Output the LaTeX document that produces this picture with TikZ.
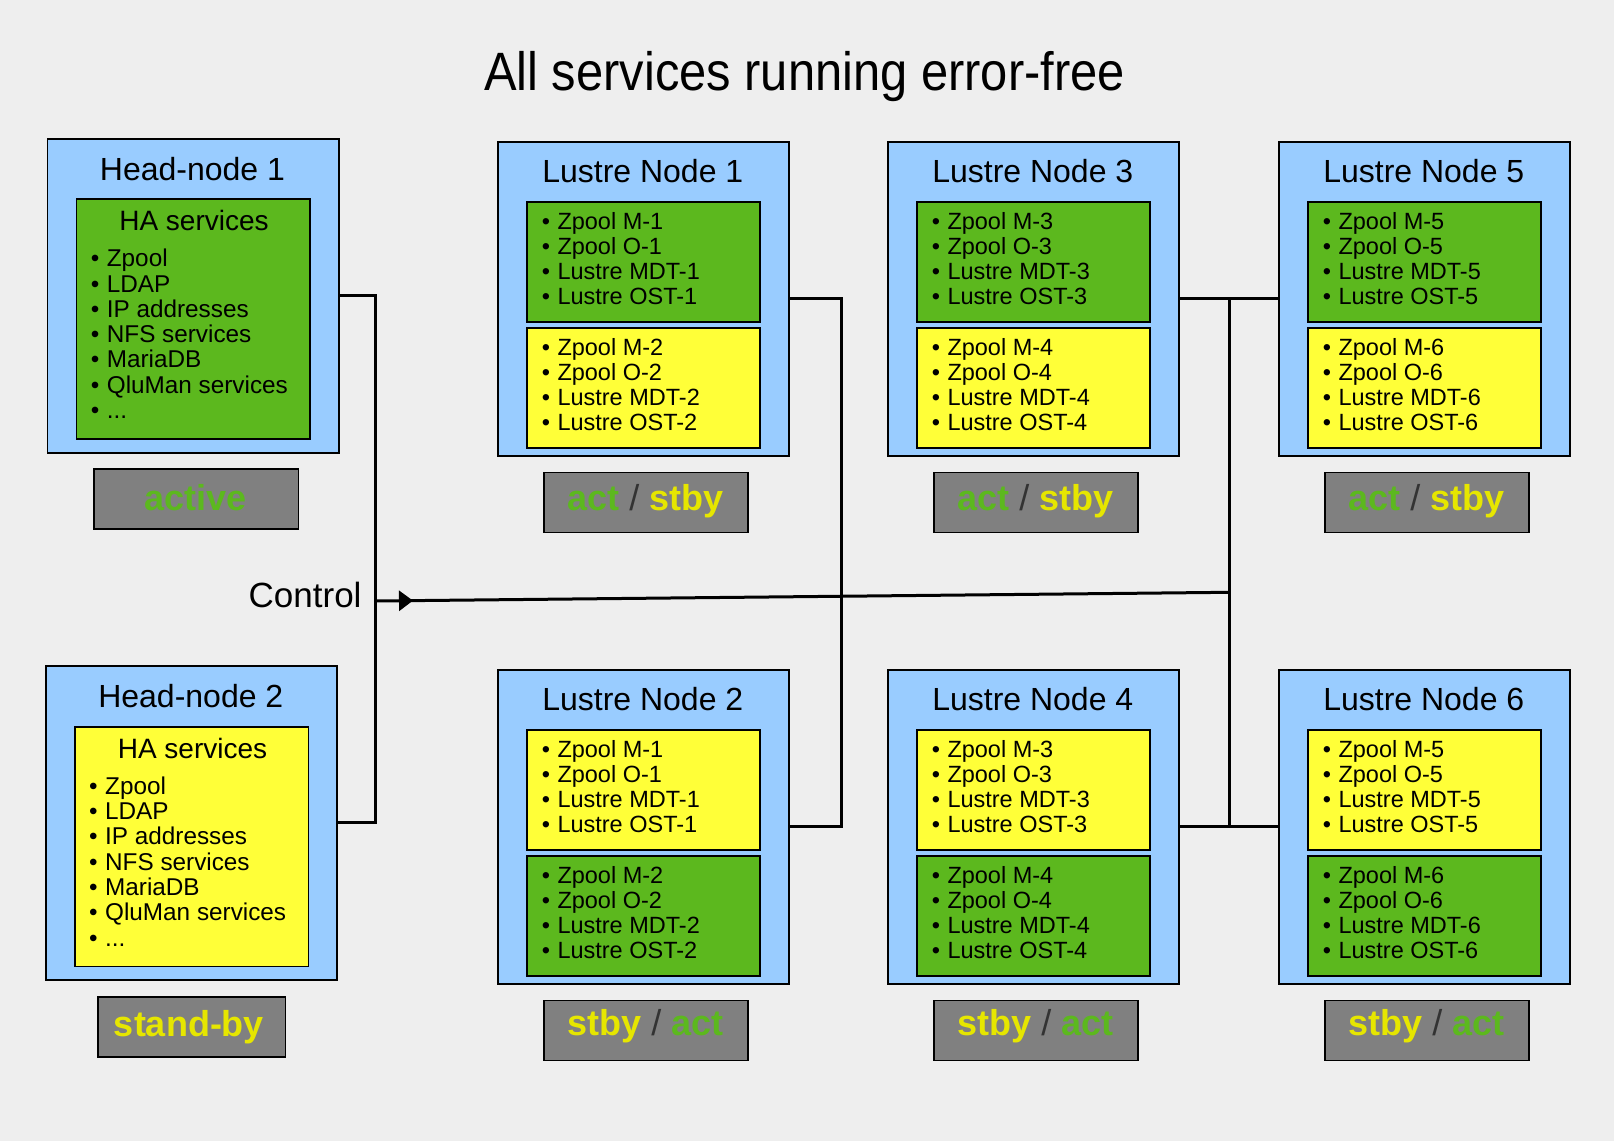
\documentclass[tikz,border=0pt]{standalone}
\usepackage{fontspec}
\setmainfont{Liberation Sans}
\usepackage{graphicx}
\usetikzlibrary{arrows.meta,decorations.markings}
\definecolor{bgc}{HTML}{EEEEEE}
\definecolor{boxblue}{HTML}{99CCFF}
\definecolor{actgreen}{HTML}{5CB81E}
\definecolor{stbyyellow}{HTML}{FFFF38}
\definecolor{statgray}{HTML}{808080}
\definecolor{txtyellow}{HTML}{E6E600}
\definecolor{slashgray}{HTML}{333333}
\tikzset{
  outerbox/.style={draw=black, line width=1.2pt, fill=boxblue, anchor=north west, inner sep=0pt, minimum width=291pt, minimum height=314pt},
  innerbox/.style={draw=black, line width=1.2pt, anchor=north west, inner sep=0pt, minimum width=233pt},
  statusbox/.style={draw=black, line width=1.2pt, fill=statgray, anchor=north west, inner sep=0pt, minimum height=60pt},
  boxtitle/.style={anchor=base, inner sep=0pt, font=\fontsize{32}{38}\selectfont},
  hatitle/.style={anchor=base, inner sep=0pt, font=\fontsize{28}{32}\selectfont},
  lsitem/.style={anchor=base west, inner sep=0pt, font=\fontsize{23.5}{25}\selectfont},
  haitem/.style={anchor=base west, inner sep=0pt, font=\fontsize{24.3}{25}\selectfont},
  statustext/.style={anchor=base, inner sep=0pt, font=\bfseries\fontsize{36}{40}\selectfont},
  conn/.style={line width=3pt, draw=black},
  ctrlarrow/.style={postaction={decorate}, decoration={markings, mark=at position 38pt with {\arrow{Triangle[length=14pt,width=20pt]}}}}
}
\newcommand{\bul}{\llap{•\hspace{7.5pt}}}
\newcommand{\threedots}{...}
\newcommand{\statoff}{38.7}
\newcommand{\actstby}{{\color{actgreen}act} {\color{slashgray}\mdseries/} {\color{txtyellow}stby}}
\newcommand{\stbyact}{{\color{txtyellow}stby} {\color{slashgray}\mdseries/} {\color{actgreen}act}}
% #1 name, #2 x, #3 y, #4 number, #5 top fill, #6 bottom fill, #7 top idx, #8 bottom idx, #9 status
\newcommand{\LNode}[9]{%
  \node[outerbox] (#1) at (#2,#3) {};
  \node[boxtitle] (#1-t) at (#2+145.5,#3+41.4) {Lustre Node #4};
  \node[innerbox, fill=#5, minimum height=120pt] (#1-a) at (#2+29,#3+60) {};
  \node[innerbox, fill=#6, minimum height=120pt] (#1-b) at (#2+29,#3+186) {};
  \foreach \t [count=\i] in {Zpool M-#7, Zpool O-#7, Lustre MDT-#7, Lustre OST-#7}
    \node[lsitem] (#1-a\i) at (#2+60,#3+87.7+25*\i-25) {\bul\t};
  \foreach \t [count=\i] in {Zpool M-#8, Zpool O-#8, Lustre MDT-#8, Lustre OST-#8}
    \node[lsitem] (#1-b\i) at (#2+60,#3+213.7+25*\i-25) {\bul\t};
  \node[statusbox, minimum width=204pt] (#1-s) at (#2+46,#3+330.3) {};
  \node[statustext] (#1-st) at (#2+148,#3+330.3+\statoff) {#9};
}
\begin{document}
\begin{tikzpicture}[x=1pt,y=-1pt]
\fill[bgc] (0,0) rectangle (1614,1141);
\useasboundingbox (0,0) rectangle (1614,1141);

\node[anchor=base, inner sep=0pt] (title) at (804.5,90) {\scalebox{0.905}[1]{\fontsize{54}{60}\selectfont All services running error-free}};

% Head-node 1
\node[outerbox, minimum width=291.6pt] (hn1) at (46.7,138.3) {};
\node[boxtitle] (hn1-t) at (192.5,180) {Head-node 1};
\node[innerbox, fill=actgreen, minimum width=233.3pt, minimum height=240pt] (hn1-a) at (76,198.3) {};
\node[hatitle] (hn1-h) at (194,230) {HA services};
\foreach \t [count=\i] in {Zpool, LDAP, IP addresses, NFS services, MariaDB, QluMan services, \threedots}
  \node[haitem] (hn1-i\i) at (106.7,266.7+25.3*\i-25.3) {\bul\t};
\node[statusbox, minimum width=204.4pt] (hn1-s) at (93.3,468.3) {};
\node[statustext] (hn1-st) at (195.5,510) {\color{actgreen}active};

% Head-node 2
\node[outerbox] (hn2) at (45.3,665.3) {};
\node[boxtitle] (hn2-t) at (190.8,707) {Head-node 2};
\node[innerbox, fill=stbyyellow, minimum width=233.4pt, minimum height=239.7pt] (hn2-a) at (74.3,726.3) {};
\node[hatitle] (hn2-h) at (192.5,758.3) {HA services};
\foreach \t [count=\i] in {Zpool, LDAP, IP addresses, NFS services, MariaDB, QluMan services, \threedots}
  \node[haitem] (hn2-i\i) at (105,794.3+25.3*\i-25.3) {\bul\t};
\node[statusbox, minimum width=187.4pt] (hn2-s) at (97.3,996.3) {};
\node[statustext] (hn2-st) at (189,1036.7) {\color{txtyellow}stand-by};

% Lustre nodes
\renewcommand{\statoff}{38.7}
\LNode{ln1}{497.3}{141.3}{1}{actgreen}{stbyyellow}{1}{2}{\actstby}
\LNode{ln3}{887.3}{141.3}{3}{actgreen}{stbyyellow}{3}{4}{\actstby}
\LNode{ln5}{1278.3}{141.3}{5}{actgreen}{stbyyellow}{5}{6}{\actstby}
\renewcommand{\statoff}{35.7}
\LNode{ln2}{497.3}{669.3}{2}{stbyyellow}{actgreen}{1}{2}{\stbyact}
\LNode{ln4}{887.3}{669.3}{4}{stbyyellow}{actgreen}{3}{4}{\stbyact}
\LNode{ln6}{1278.3}{669.3}{6}{stbyyellow}{actgreen}{5}{6}{\stbyact}

% connectors
\coordinate (hbus) at (375,601);
\coordinate (mbus) at (841,0);
\coordinate (rbus) at (1229.3,592.3);
\draw[conn] (hn1.east) -- (hn1.east -| hbus) -- (hn2.east -| hbus) -- (hn2.east);
\draw[conn] (ln1.east) -- (ln1.east -| mbus) -- (ln2.east -| mbus) -- (ln2.east);
\draw[conn] (ln3.east) -- (ln5.west);
\draw[conn] (ln4.east) -- (ln6.west);
\draw[conn] (ln3.east -| rbus) -- (ln4.east -| rbus);
\draw[conn, ctrlarrow] (hbus) -- (rbus);
\node[anchor=base east, inner sep=0pt, font=\fontsize{35}{40}\selectfont] (ctrl) at (361.7,607.7) {Control};
\end{tikzpicture}
\end{document}
